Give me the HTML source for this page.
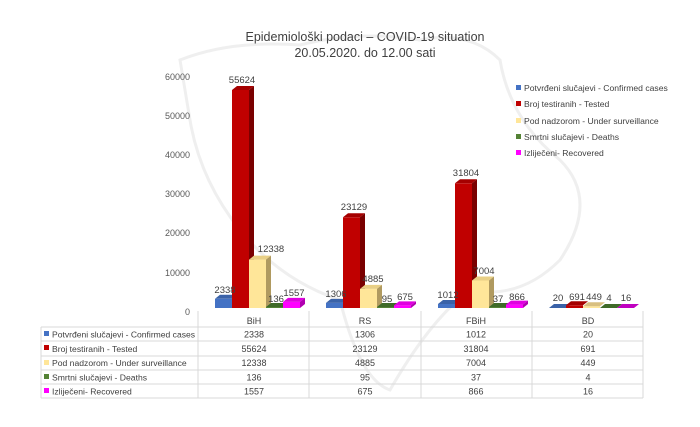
<!DOCTYPE html>
<html><head><meta charset="utf-8"><style>
body{margin:0;background:#fff;}
svg{display:block;font-family:"Liberation Sans",sans-serif;}
</style></head><body>
<svg width="700" height="427" viewBox="0 0 700 427" xmlns="http://www.w3.org/2000/svg">
<rect width="700" height="427" fill="#fff"/>
<path d="M180 60 Q230 40 300 45 Q360 30 420 40 Q470 30 500 60 Q510 120 560 160 Q600 200 560 260 Q520 300 470 290 Q430 320 390 390 Q360 380 340 300 Q280 280 240 230 Q200 180 190 120 Z" fill="none" stroke="#efefef" stroke-width="3"/>
<text x="365" y="41" text-anchor="middle" font-size="12.5" fill="#404040">Epidemiološki podaci – COVID-19 situation</text>
<text x="365" y="57" text-anchor="middle" font-size="12.5" fill="#404040">20.05.2020. do 12.00 sati</text>
<g font-size="9" fill="#595959" text-anchor="end">
<text x="190" y="80">60000</text><text x="190" y="119">50000</text><text x="190" y="158">40000</text><text x="190" y="197">30000</text><text x="190" y="236">20000</text><text x="190" y="276">10000</text><text x="190" y="315">0</text>
</g>
<g font-size="8.6" fill="#404040">
<rect x="516" y="85" width="5" height="5" fill="#4472c4"/><text x="524" y="91">Potvrđeni slučajevi - Confirmed cases</text>
<rect x="516" y="101" width="5" height="5" fill="#c00000"/><text x="524" y="107">Broj testiranih - Tested</text>
<rect x="516" y="118" width="5" height="5" fill="#ffe699"/><text x="524" y="124">Pod nadzorom - Under surveillance</text>
<rect x="516" y="134" width="5" height="5" fill="#548235"/><text x="524" y="140">Smrtni slučajevi - Deaths</text>
<rect x="516" y="150" width="5" height="5" fill="#ff00ff"/><text x="524" y="156">Izliječeni- Recovered</text>
</g>
<g>
<rect x="215" y="298.8" width="17" height="9.2" fill="#4472c4"/><polygon points="215,298.8 232,298.8 237,294.8 220,294.8" fill="#3a62a8"/><polygon points="232,298.8 237,294.8 237,304 232,308" fill="#2f5597"/>
<rect x="232" y="90" width="17" height="218" fill="#c00000"/><polygon points="232,90 249,90 254,86 237,86" fill="#a50000"/><polygon points="249,90 254,86 254,304 249,308" fill="#7a0000"/>
<rect x="249" y="259.6" width="17" height="48.4" fill="#ffe699"/><polygon points="249,259.6 266,259.6 271,255.6 254,255.6" fill="#e8cf85"/><polygon points="266,259.6 271,255.6 271,304 266,308" fill="#b09a60"/>
<rect x="266" y="307" width="17" height="1" fill="#548235"/><polygon points="266,307 283,307 288,303 271,303" fill="#3f6a28"/><polygon points="283,307 288,303 288,304 283,308" fill="#375623"/>
<rect x="283" y="301.9" width="17" height="6.1" fill="#ff00ff"/><polygon points="283,301.9 300,301.9 305,297.9 288,297.9" fill="#e000e0"/><polygon points="300,301.9 305,297.9 305,304 300,308" fill="#b000b0"/>
<rect x="326" y="302.9" width="17" height="5.1" fill="#4472c4"/><polygon points="326,302.9 343,302.9 348,298.9 331,298.9" fill="#3a62a8"/><polygon points="343,302.9 348,298.9 348,304 343,308" fill="#2f5597"/>
<rect x="343" y="217.3" width="17" height="90.7" fill="#c00000"/><polygon points="343,217.3 360,217.3 365,213.3 348,213.3" fill="#a50000"/><polygon points="360,217.3 365,213.3 365,304 360,308" fill="#7a0000"/>
<rect x="360" y="288.9" width="17" height="19.1" fill="#ffe699"/><polygon points="360,288.9 377,288.9 382,284.9 365,284.9" fill="#e8cf85"/><polygon points="377,288.9 382,284.9 382,304 377,308" fill="#b09a60"/>
<rect x="377" y="307" width="17" height="1" fill="#548235"/><polygon points="377,307 394,307 399,303 382,303" fill="#3f6a28"/>
<rect x="394" y="305.4" width="17" height="2.6" fill="#ff00ff"/><polygon points="394,305.4 411,305.4 416,301.4 399,301.4" fill="#e000e0"/><polygon points="411,305.4 416,301.4 416,304 411,308" fill="#b000b0"/>
<rect x="438" y="304" width="17" height="4" fill="#4472c4"/><polygon points="438,304 455,304 460,300 443,300" fill="#3a62a8"/>
<rect x="455" y="183.3" width="17" height="124.7" fill="#c00000"/><polygon points="455,183.3 472,183.3 477,179.3 460,179.3" fill="#a50000"/><polygon points="472,183.3 477,179.3 477,304 472,308" fill="#7a0000"/>
<rect x="472" y="280.5" width="17" height="27.5" fill="#ffe699"/><polygon points="472,280.5 489,280.5 494,276.5 477,276.5" fill="#e8cf85"/><polygon points="489,280.5 494,276.5 494,304 489,308" fill="#b09a60"/>
<rect x="489" y="307" width="17" height="1" fill="#548235"/><polygon points="489,307 506,307 511,303 494,303" fill="#3f6a28"/>
<rect x="506" y="304.6" width="17" height="3.4" fill="#ff00ff"/><polygon points="506,304.6 523,304.6 528,300.6 511,300.6" fill="#e000e0"/><polygon points="523,304.6 528,300.6 528,304 523,308" fill="#b000b0"/>
<polygon points="549,308 566,308 571,304 554,304" fill="#3a62a8"/>
<rect x="566" y="305.3" width="17" height="2.7" fill="#c00000"/><polygon points="566,305.3 583,305.3 588,301.3 571,301.3" fill="#a50000"/>
<rect x="583" y="306.2" width="17" height="1.8" fill="#ffe699"/><polygon points="583,306.2 600,306.2 605,302.2 588,302.2" fill="#d8bf80"/>
<polygon points="600,308 617,308 622,304 605,304" fill="#3f6a28"/>
<polygon points="617,308 634,308 639,304 622,304" fill="#c000c0"/>
</g>
<g font-size="9.5" fill="#404040" text-anchor="middle">
<text x="225" y="293">2338</text><text x="242" y="83">55624</text><text x="271" y="252">12338</text><text x="276" y="302">136</text><text x="294" y="296">1557</text>
<text x="336" y="297">1306</text><text x="354" y="210">23129</text><text x="373" y="282">4885</text><text x="387" y="302">95</text><text x="405" y="300">675</text>
<text x="448" y="298">1012</text><text x="466" y="176">31804</text><text x="484" y="274">7004</text><text x="498" y="302">37</text><text x="517" y="300">866</text>
<text x="558" y="301">20</text><text x="577" y="300">691</text><text x="594" y="300">449</text><text x="609" y="301">4</text><text x="626" y="301">16</text>
</g>
<g stroke="#d9d9d9" stroke-width="1" fill="none">
<line x1="198" y1="311" x2="198" y2="398"/><line x1="309" y1="311" x2="309" y2="398"/><line x1="421" y1="311" x2="421" y2="398"/><line x1="532" y1="311" x2="532" y2="398"/><line x1="643" y1="311" x2="643" y2="398"/>
<line x1="41" y1="327" x2="643" y2="327"/><line x1="41" y1="341" x2="643" y2="341"/><line x1="41" y1="356" x2="643" y2="356"/><line x1="41" y1="370" x2="643" y2="370"/><line x1="41" y1="384" x2="643" y2="384"/><line x1="41" y1="398" x2="643" y2="398"/>
<line x1="41" y1="327" x2="41" y2="398"/>
</g>
<g font-size="9" fill="#404040" text-anchor="middle">
<text x="254" y="324">BiH</text><text x="365" y="324">RS</text><text x="476" y="324">FBiH</text><text x="588" y="324">BD</text>
<text x="254" y="337.5">2338</text><text x="365" y="337.5">1306</text><text x="476" y="337.5">1012</text><text x="588" y="337.5">20</text>
<text x="254" y="352">55624</text><text x="365" y="352">23129</text><text x="476" y="352">31804</text><text x="588" y="352">691</text>
<text x="254" y="366">12338</text><text x="365" y="366">4885</text><text x="476" y="366">7004</text><text x="588" y="366">449</text>
<text x="254" y="380.5">136</text><text x="365" y="380.5">95</text><text x="476" y="380.5">37</text><text x="588" y="380.5">4</text>
<text x="254" y="394.5">1557</text><text x="365" y="394.5">675</text><text x="476" y="394.5">866</text><text x="588" y="394.5">16</text>
</g>
<g font-size="8.6" fill="#404040">
<rect x="44" y="331" width="5" height="5" fill="#4472c4"/><text x="52" y="337.5" textLength="143" lengthAdjust="spacingAndGlyphs">Potvrđeni slučajevi - Confirmed cases</text>
<rect x="44" y="345" width="5" height="5" fill="#c00000"/><text x="52" y="352">Broj testiranih - Tested</text>
<rect x="44" y="360" width="5" height="5" fill="#ffe699"/><text x="52" y="366">Pod nadzorom - Under surveillance</text>
<rect x="44" y="374" width="5" height="5" fill="#548235"/><text x="52" y="380.5">Smrtni slučajevi - Deaths</text>
<rect x="44" y="388" width="5" height="5" fill="#ff00ff"/><text x="52" y="394.5">Izliječeni- Recovered</text>
</g>
</svg>
</body></html>
